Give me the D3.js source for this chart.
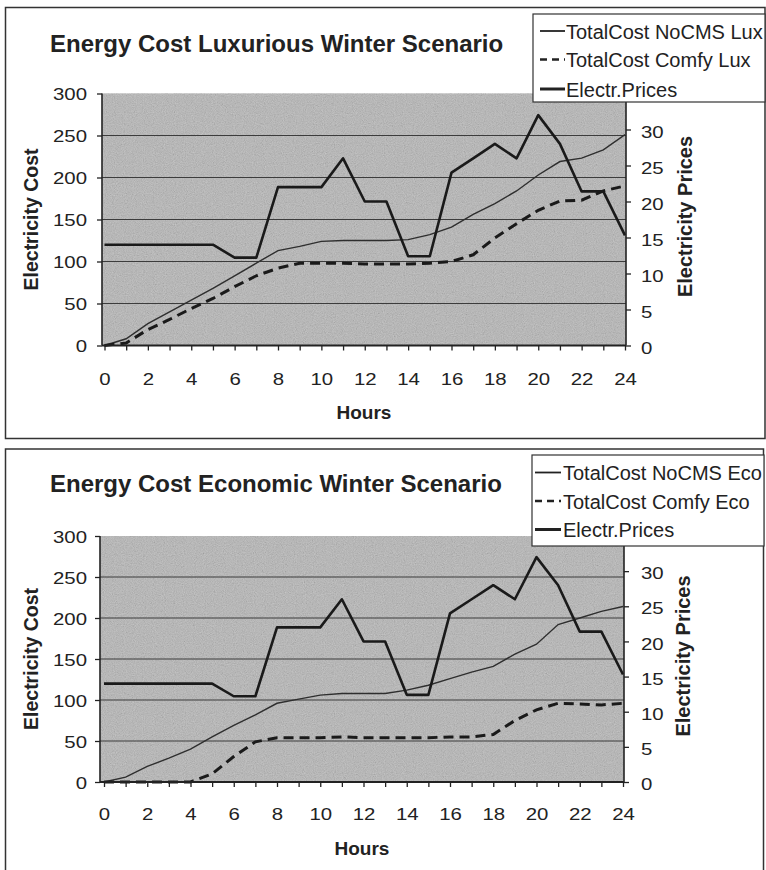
<!DOCTYPE html>
<html>
  <head>
    <meta charset="UTF-8" />
    <script src="https://d3js.org/d3.v7.min.js"></script>
    <style>
      body { margin: 0; background: #fff; }
      text { font-family: "Liberation Sans", Arial, sans-serif; fill: #222; }
    </style>
  </head>
  <body>
    <div id="my_dataviz"></div>

    <script>
      // ---- data ----
      var hours = [0, 1, 2, 3, 4, 5, 6, 7, 8, 9, 10, 11, 12, 13, 14, 15, 16, 17, 18, 19, 20, 21, 22, 23, 24];
      var hourLabels = [0, 2, 4, 6, 8, 10, 12, 14, 16, 18, 20, 22, 24];
      var costTicks = [0, 50, 100, 150, 200, 250, 300];
      var priceTicks = [0, 5, 10, 15, 20, 25, 30];

      var electrPrices = [14, 14, 14, 14, 14, 14, 12.2, 12.2, 22, 22, 22, 26, 20, 20, 12.4, 12.4, 24, 26, 28, 26, 32, 28, 21.4, 21.4, 15.3];

      var noCmsLux = [0, 8, 26, 40, 54, 68, 83, 98, 113, 118, 124, 125, 125, 125, 126, 132, 141, 156, 169, 184, 203, 219, 223, 233, 251];
      var comfyLux = [0, 3, 19, 31, 44, 56, 70, 83, 92, 98, 98, 98, 97, 97, 97, 98, 100, 108, 128, 145, 161, 172, 173, 184, 190];

      var noCmsEco = [0, 6, 19, 29, 40, 55, 69, 82, 96, 101, 106, 108, 108, 108, 112, 118, 126, 134, 141, 156, 168, 192, 200, 208, 214];
      var comfyEco = [0, 0, 0, 0, 0, 10, 31, 49, 54, 54, 54, 55, 54, 54, 54, 54, 55, 55, 58, 75, 88, 96, 95, 94, 96];

      var titles = ["Energy Cost Luxurious Winter Scenario", "Energy Cost Economic Winter Scenario"];
      var luxNames = ["TotalCost NoCMS Lux", "TotalCost Comfy Lux", "Electr.Prices"];
      var ecoNames = ["TotalCost NoCMS Eco", "TotalCost Comfy Eco", "Electr.Prices"];

      // ---- layout ----
      var width = 766, height = 870;

      var panels = [
        {
          title: titles[0], names: luxNames, noCms: noCmsLux, comfy: comfyLux,
          frame: [5.5, 7.5, 759.5, 431], plot: { l: 102, r: 626, t: 93.5, b: 345.5 },
          x0: 104.5, x1: 625, titleY: 52, hoursY: 419, leftTitleX: 38, rightTitleX: 692,
          xLabelDy: 39.5, legend: { x: 533, y: 14, w: 232, h: 88, sx: 540, sw: 25, tx: 566, rows: [38.5, 67, 96.5] }
        },
        {
          title: titles[1], names: ecoNames, noCms: noCmsEco, comfy: comfyEco,
          frame: [5.5, 449, 758, 440], plot: { l: 100, r: 624, t: 536, b: 782 },
          x0: 104, x1: 623, titleY: 492, hoursY: 855, leftTitleX: 38, rightTitleX: 690,
          xLabelDy: 38, legend: { x: 532, y: 455, w: 232, h: 91, sx: 535, sw: 26, tx: 563, rows: [480, 508.5, 537] }
        }
      ];

      var svg = d3
        .select("#my_dataviz")
        .append("svg")
        .attr("width", width)
        .attr("height", height);

      // scanned grain for the grey plot area
      var grain = svg.append("defs").append("filter")
        .attr("id", "grain").attr("x", 0).attr("y", 0).attr("width", 1).attr("height", 1);
      grain.append("feTurbulence")
        .attr("type", "fractalNoise").attr("baseFrequency", 0.9).attr("numOctaves", 2).attr("seed", 7);
      grain.append("feColorMatrix")
        .attr("type", "matrix")
        .attr("values", "0.33 0.33 0.33 0 0  0.33 0.33 0.33 0 0  0.33 0.33 0.33 0 0  0 0 0 0 0.4");

      panels.forEach(drawPanel);

      function drawPanel(p) {
        var g = svg.append("g");
        var pl = p.plot;

        // outer frame
        g.append("rect")
          .attr("x", p.frame[0]).attr("y", p.frame[1])
          .attr("width", p.frame[2]).attr("height", p.frame[3])
          .attr("fill", "#fff").attr("stroke", "#333").attr("stroke-width", 1.5);

        var xScale = d3.scaleLinear().domain([0, 24]).range([p.x0, p.x1]);
        var yCost = d3.scaleLinear().domain([0, 300]).range([pl.b, pl.t]);
        var yPrice = d3.scaleLinear().domain([0, 35]).range([pl.b, pl.t]);

        // plot area
        g.append("rect")
          .attr("x", pl.l).attr("y", pl.t)
          .attr("width", pl.r - pl.l).attr("height", pl.b - pl.t)
          .attr("fill", "#b4b4b4");
        g.append("rect")
          .attr("x", pl.l).attr("y", pl.t)
          .attr("width", pl.r - pl.l).attr("height", pl.b - pl.t)
          .attr("filter", "url(#grain)");

        // gridlines
        g.append("g")
          .selectAll("line")
          .data(costTicks.filter(function (d) { return d > 0 && d < 300; }))
          .join("line")
          .attr("x1", pl.l).attr("x2", pl.r)
          .attr("y1", function (d) { return yCost(d); })
          .attr("y2", function (d) { return yCost(d); })
          .attr("stroke", "#3c3c3c").attr("stroke-width", 1.1);

        // series
        var costLine = d3.line()
          .x(function (d, i) { return xScale(hours[i]); })
          .y(function (d) { return yCost(d); });
        var priceLine = d3.line()
          .x(function (d, i) { return xScale(hours[i]); })
          .y(function (d) { return yPrice(d); });

        g.append("path")
          .attr("d", costLine(p.noCms))
          .attr("fill", "none").attr("stroke", "#2e2e2e").attr("stroke-width", 1.4);
        g.append("path")
          .attr("d", costLine(p.comfy))
          .attr("fill", "none").attr("stroke", "#1a1a1a").attr("stroke-width", 3)
          .attr("stroke-dasharray", "10,6");
        g.append("path")
          .attr("d", priceLine(electrPrices))
          .attr("fill", "none").attr("stroke", "#1a1a1a").attr("stroke-width", 2.6)
          .attr("stroke-linejoin", "round");

        // axes
        var leftAxis = g.append("g")
          .attr("transform", "translate(" + pl.l + ",0)")
          .call(d3.axisLeft(yCost).tickValues(costTicks).tickSize(5).tickSizeOuter(0));
        leftAxis.selectAll("text")
          .attr("x", null).attr("dy", "0.38em")
          .attr("transform", "translate(" + (87 - pl.l) + ",0) scale(1.2,1)");

        var rightAxis = g.append("g")
          .attr("transform", "translate(" + pl.r + ",0)")
          .call(d3.axisRight(yPrice).tickValues(priceTicks).tickSize(5).tickSizeOuter(0));
        rightAxis.selectAll("text")
          .attr("x", null).attr("dy", "0.45em")
          .attr("transform", "translate(" + (641 - pl.r) + ",0) scale(1.2,1)");

        var bottomAxis = g.append("g")
          .attr("transform", "translate(0," + pl.b + ")")
          .call(
            d3.axisBottom(xScale).tickValues(hours).tickSize(5).tickSizeOuter(0)
              .tickFormat(function (d) { return hourLabels.indexOf(d) >= 0 ? d : ""; })
          );
        bottomAxis.selectAll("text")
          .attr("y", null).attr("dy", null)
          .attr("transform", "translate(0," + p.xLabelDy + ") scale(1.2,1)");

        [leftAxis, rightAxis, bottomAxis].forEach(function (a) {
          a.select(".domain").remove();
          a.selectAll("line").attr("stroke", "#222").attr("stroke-width", 1.3);
          a.selectAll("text").attr("fill", "#222").style("font-size", "17px")
            .style("font-family", '"Liberation Sans", Arial, sans-serif');
        });

        // axis lines
        g.append("line").attr("x1", pl.l).attr("x2", pl.l).attr("y1", pl.t).attr("y2", pl.b)
          .attr("stroke", "#222").attr("stroke-width", 1.6);
        g.append("line").attr("x1", pl.r).attr("x2", pl.r).attr("y1", pl.t).attr("y2", pl.b)
          .attr("stroke", "#222").attr("stroke-width", 1.6);
        g.append("line").attr("x1", pl.l).attr("x2", pl.r).attr("y1", pl.b).attr("y2", pl.b)
          .attr("stroke", "#222").attr("stroke-width", 1.8);

        // titles
        g.append("text")
          .attr("x", 50).attr("y", p.titleY)
          .style("font-size", "24px").style("font-weight", "bold")
          .text(p.title);
        g.append("text")
          .attr("x", (pl.l + pl.r) / 2).attr("y", p.hoursY)
          .attr("text-anchor", "middle")
          .style("font-size", "19px").style("font-weight", "bold")
          .text("Hours");
        g.append("text")
          .attr("transform", "translate(" + p.leftTitleX + "," + (pl.t + pl.b) / 2 + ") rotate(-90)")
          .attr("text-anchor", "middle")
          .style("font-size", "19.5px").style("font-weight", "bold")
          .text("Electricity Cost");
        g.append("text")
          .attr("transform", "translate(" + p.rightTitleX + "," + ((pl.t + pl.b) / 2 - 3) + ") rotate(-90)")
          .attr("text-anchor", "middle")
          .style("font-size", "20px").style("font-weight", "bold")
          .text("Electricity Prices");

        // legend
        var lg = p.legend;
        g.append("rect")
          .attr("x", lg.x).attr("y", lg.y).attr("width", lg.w).attr("height", lg.h)
          .attr("fill", "#fff").attr("stroke", "#333").attr("stroke-width", 1.2);
        var samples = [
          { w: 1.8, dash: null },
          { w: 2.6, dash: "7,5" },
          { w: 3, dash: null }
        ];
        p.names.forEach(function (name, i) {
          var cy = lg.rows[i] - 7.5;
          g.append("line")
            .attr("x1", lg.sx).attr("x2", lg.sx + lg.sw)
            .attr("y1", cy).attr("y2", cy)
            .attr("stroke", "#222").attr("stroke-width", samples[i].w)
            .attr("stroke-dasharray", samples[i].dash);
          g.append("text")
            .attr("x", lg.tx).attr("y", lg.rows[i])
            .style("font-size", "20px")
            .text(name);
        });
      }
    </script>
  </body>
</html>
